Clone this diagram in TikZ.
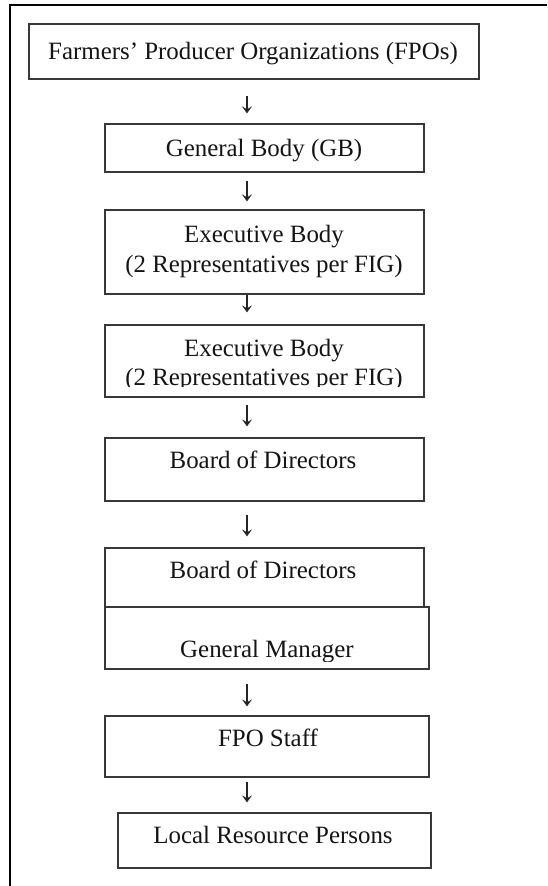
\documentclass[tikz,border=0pt]{standalone}
\usepackage{fontspec}
\setmainfont{Liberation Serif}
\usetikzlibrary{arrows.meta,calc}
\begin{document}
\begin{tikzpicture}[x=1pt,y=-1pt,
  box/.style={draw=black!78,line width=1.3pt,inner sep=0pt,rectangle},
  txt/.style={anchor=base,inner sep=0pt,font=\fontsize{24.9}{30}\selectfont,text=black!92},
  arr/.style={draw=black!85,line width=1.2pt,-{Stealth[length=7pt,width=10pt,inset=3pt]}},
  frame/.style={draw=black,line width=2pt}]
\useasboundingbox (0,0) rectangle (547,886);
\draw[frame] (547,5) -- (10,5) -- (10,886);
% boxes
\node[box,minimum width=450,minimum height=55] (b1) at (254,51.5) {};
\node[box,minimum width=319,minimum height=48] (b2) at (264.5,148) {};
\node[box,minimum width=319,minimum height=84] (b3) at (264.5,252) {};
\node[box,minimum width=319,minimum height=72] (b4) at (264.5,361) {};
\node[box,minimum width=319,minimum height=63] (b5) at (264.5,469.5) {};
\node[box,minimum width=319,minimum height=59] (b6) at (264.5,577.5) {};
\node[box,minimum width=324,minimum height=62] (b7) at (267,638) {};
\node[box,minimum width=324,minimum height=61] (b8) at (267,746.5) {};
\node[box,minimum width=313,minimum height=55] (b9) at (274.5,840.5) {};
% texts
\node[txt] (t1) at (253,59) {Farmers’ Producer Organizations (FPOs)};
\node[txt] (t2) at (264,156) {General Body (GB)};
\node[txt] (t3a) at (264,242) {Executive Body};
\node[txt] (t3b) at (264,272) {(2 Representatives per FIG)};
\node[txt] (t4a) at (264,356) {Executive Body};
\begin{scope}
\clip (0,0) rectangle (547,386);
\node[txt] (t4b) at (264,385) {(2 Representatives per FIG)};
\end{scope}
\node[txt] (t5) at (263,468) {Board of Directors};
\node[txt] (t6) at (263,578) {Board of Directors};
\begin{scope}
\clip (0,0) rectangle (547,661);
\node[txt] (t7) at (267,657) {General Manager};
\end{scope}
\node[txt] (t8) at (268,746) {FPO Staff};
\node[txt] (t9) at (273,843) {Local Resource Persons};
% arrows
\coordinate (ax) at (247,0);
\draw[arr] ($(b1.south -| ax)+(0,16)$) -- ($(b2.north -| ax)+(0,-10)$);
\draw[arr] ($(b2.south -| ax)+(0,8)$) -- ($(b3.north -| ax)+(0,-8)$);
\draw[arr] ($(b3.south -| ax)+(0,0)$) -- ($(b4.north -| ax)+(0,-12)$);
\draw[arr] ($(b4.south -| ax)+(0,7)$) -- ($(b5.north -| ax)+(0,-11)$);
\draw[arr] ($(b5.south -| ax)+(0,13)$) -- ($(b6.north -| ax)+(0,-11)$);
\draw[arr] ($(b7.south -| ax)+(0,14)$) -- ($(b8.north -| ax)+(0,-9)$);
\draw[arr] ($(b8.south -| ax)+(0,4)$) -- ($(b9.north -| ax)+(0,-10)$);
\end{tikzpicture}
\end{document}
